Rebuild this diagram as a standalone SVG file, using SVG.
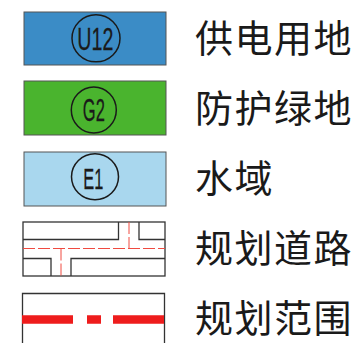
<svg xmlns="http://www.w3.org/2000/svg" width="359" height="343" viewBox="0 0 359 343">
<style>
.box{stroke:#555;stroke-width:1}
.circ{fill:none;stroke:#1a1a1a;stroke-width:1.5}
.code{font-family:"Liberation Sans",Arial,sans-serif;font-size:32px;fill:#1a1a1a;stroke:#1a1a1a;stroke-width:0.3;text-anchor:middle}
.lbl{font-family:"Noto Sans CJK SC","Noto Sans",sans-serif;font-size:38px;fill:#1a1a1a;letter-spacing:1.5px}
.road{fill:none;stroke:#333;stroke-width:1.3}
.cl{fill:none;stroke:#f04a40;stroke-width:1;stroke-dasharray:12 3}
</style>
<rect width="359" height="343" fill="#fff"/>
<g id="u12">
<rect class="box" x="24" y="12" width="142" height="53" fill="#3b8cc6"/>
<ellipse class="circ" cx="96" cy="38.3" rx="24" ry="23.5"/>
<text class="code" x="95.3" y="49.5" textLength="36" lengthAdjust="spacingAndGlyphs">U12</text>
<text class="lbl" x="195" y="52">供电用地</text>
</g>
<g id="g2">
<rect class="box" x="24" y="81" width="142" height="54" fill="#4ab42e"/>
<ellipse class="circ" cx="93.8" cy="110" rx="22.5" ry="23"/>
<text class="code" x="93.8" y="121" textLength="22" lengthAdjust="spacingAndGlyphs">G2</text>
<text class="lbl" x="195" y="122">防护绿地</text>
</g>
<g id="e1">
<rect class="box" x="24" y="152" width="142" height="54" fill="#a9d7ee"/>
<ellipse class="circ" cx="95" cy="176.7" rx="23.5" ry="23"/>
<text class="code" x="93.3" y="189" textLength="20" lengthAdjust="spacingAndGlyphs" style="font-size:30px">E1</text>
<text class="lbl" x="195" y="192">水域</text>
</g>
<g id="road">
<rect class="road" x="23" y="222" width="142" height="54"/>
<path class="road" d="M23 239.5H118.5V222M139 222V239.5H165M23 258.5H51V276M71 276V258.5H165"/>
<path class="cl" d="M23 248.5H165M129 222V248.5M61 248.5V276"/>
<text class="lbl" x="195" y="262">规划道路</text>
</g>
<g id="boundary">
<path d="M22.5 350V293.5H164.5V350" fill="none" stroke="#333" stroke-width="1.3"/>
<path d="M22 319.5H73M87 319.5H101M113 319.5H164" stroke="#ee1c1c" stroke-width="8.5" fill="none"/>
<text class="lbl" x="195" y="332">规划范围</text>
</g>
</svg>
